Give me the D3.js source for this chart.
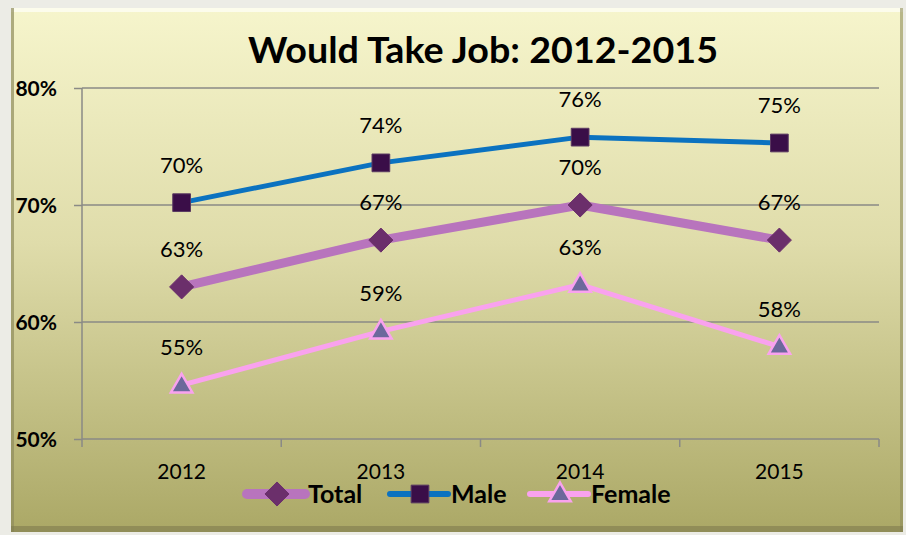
<!DOCTYPE html>
<html><head><meta charset="utf-8">
<script src="https://cdn.jsdelivr.net/npm/d3@7"></script>
<style>html,body{margin:0;padding:0;background:#ecece6;}svg{display:block;}</style>
</head><body>
<script>
const years = ["2012", "2013", "2014", "2015"];
const totalValues = [63.0, 67.0, 70.0, 67.0];
const maleValues = [70.2, 73.6, 75.8, 75.3];
const femaleValues = [54.6, 59.2, 63.2, 57.9];
const totalLabels = ["63%", "67%", "70%", "67%"];
const maleLabels = ["70%", "74%", "76%", "75%"];
const femaleLabels = ["55%", "59%", "63%", "58%"];
const yTicks = [50, 60, 70, 80];
const seriesNames = ["Total", "Male", "Female"];

const W = 906, H = 535;
const svg = d3.select("body").append("svg").attr("width", W).attr("height", H);
const font = "Lato, 'Open Sans', sans-serif";

const defs = svg.append("defs");
const g1 = defs.append("linearGradient").attr("id", "bg").attr("x1", 0).attr("y1", 0).attr("x2", 0).attr("y2", 1);
g1.append("stop").attr("offset", "0%").attr("stop-color", "#f6f5cc");
g1.append("stop").attr("offset", "45%").attr("stop-color", "#dfdcaa");
g1.append("stop").attr("offset", "100%").attr("stop-color", "#aba866");

// panel with bevel
svg.append("rect").attr("x", 11).attr("y", 8).attr("width", 892).attr("height", 524).attr("fill", "url(#bg)");
svg.append("rect").attr("x", 11).attr("y", 8).attr("width", 892).attr("height", 4).attr("fill", "#fdfdf0").attr("opacity", 0.9);
svg.append("rect").attr("x", 11).attr("y", 8).attr("width", 3).attr("height", 524).attr("fill", "#8e8c5c").attr("opacity", 0.7);
svg.append("rect").attr("x", 900).attr("y", 8).attr("width", 3).attr("height", 524).attr("fill", "#8e8c5c").attr("opacity", 0.6);
svg.append("rect").attr("x", 11).attr("y", 526).attr("width", 892).attr("height", 6).attr("fill", "#7e7c4e").attr("opacity", 0.6);

const x = d3.scaleBand().domain(years).range([82, 879]);
const y = d3.scaleLinear().domain([50, 80]).range([439, 88]);
const cx = d => x(d) + x.bandwidth() / 2;

// gridlines
svg.append("g").selectAll("line").data(yTicks.filter(t => t > 50)).join("line")
  .attr("x1", 82).attr("x2", 879).attr("y1", d => y(d)).attr("y2", d => y(d))
  .attr("stroke", "#8a8a86").attr("stroke-width", 1.5);

// y axis
const yAxis = svg.append("g").attr("transform", "translate(82,0)")
  .call(d3.axisLeft(y).tickValues(yTicks).tickSize(8).tickPadding(17).tickFormat(d => d + "%"));
yAxis.select(".domain").attr("stroke", "#8a8a86").attr("stroke-width", 1.5).attr("d", "M0,88V439");
yAxis.selectAll(".tick line").attr("stroke", "#8a8a86").attr("stroke-width", 1.5);
yAxis.selectAll(".tick text").attr("font-family", font).attr("font-weight", "bold")
  .attr("font-size", 21).attr("fill", "#000").attr("dy", "0.35em");

// x axis
const xAxis = svg.append("g").attr("transform", "translate(0,439)")
  .call(d3.axisBottom(x).tickSize(0).tickPadding(25));
xAxis.select(".domain").attr("stroke", "#8a8a86").attr("stroke-width", 1.5).attr("d", "M82,0H879");
xAxis.selectAll(".tick text").attr("font-family", font).attr("font-size", 21).attr("fill", "#000");
const bounds = years.map(d => x(d)).concat([x(years[years.length - 1]) + x.bandwidth()]);
svg.append("g").selectAll("line").data(bounds).join("line")
  .attr("x1", d => d).attr("x2", d => d).attr("y1", 439).attr("y2", 447)
  .attr("stroke", "#8a8a86").attr("stroke-width", 1.5);

// title
svg.append("text").attr("x", 483).attr("y", 63).attr("text-anchor", "middle")
  .attr("font-family", font).attr("font-weight", "bold").attr("font-size", 37)
  .attr("textLength", 470).attr("lengthAdjust", "spacingAndGlyphs")
  .attr("fill", "#000").text("Would Take Job: 2012-2015");

const line = d3.line().x((d, i) => cx(years[i])).y(d => y(d));

const series = [
  {name: "Total", values: totalValues, labels: totalLabels, color: "#b874bd", width: 9, marker: "diamond", mfill: "#6b2f6b", mstroke: "#6b2f6b"},
  {name: "Male", values: maleValues, labels: maleLabels, color: "#0b72c0", width: 5, marker: "square", mfill: "#3a0e48", mstroke: "#5a3a62"},
  {name: "Female", values: femaleValues, labels: femaleLabels, color: "#f9a2ee", width: 5, marker: "triangle", mfill: "#6c689c", mstroke: "#f9a2ee"}
];

const sym = {
  diamond: d3.symbol().type(d3.symbolDiamond2).size(370),
  square: d3.symbol().type(d3.symbolSquare2).size(400),
  triangle: d3.symbol().type(d3.symbolTriangle2).size(330)
};

function drawMarker(g, s, px, py) {
  const p = g.append("path").attr("d", sym[s.marker]()).attr("transform", `translate(${px},${py})`)
    .attr("fill", s.mfill).attr("stroke", s.mstroke).attr("stroke-width", s.marker === "triangle" ? 2.5 : 1);
  if (s.marker === "triangle") p.attr("transform", `translate(${px},${py + 1})`);
}

series.forEach(s => {
  svg.append("path").datum(s.values).attr("d", line).attr("fill", "none")
    .attr("stroke", s.color).attr("stroke-width", s.width).attr("stroke-linejoin", "round");
});
series.forEach(s => {
  const g = svg.append("g");
  s.values.forEach((v, i) => drawMarker(g, s, cx(years[i]), y(v)));
});
series.forEach(s => {
  svg.append("g").selectAll("text").data(s.values).join("text")
    .attr("x", (d, i) => cx(years[i])).attr("y", d => y(d) - 30)
    .attr("text-anchor", "middle").attr("font-family", font).attr("font-size", 22)
    .attr("fill", "#000").text((d, i) => s.labels[i]);
});

// legend
const legendX = [247, 390, 530];
series.forEach((s, i) => {
  const lx = legendX[i], ly = 494;
  svg.append("line").attr("x1", lx).attr("x2", lx + 58).attr("y1", ly).attr("y2", ly)
    .attr("stroke", s.color).attr("stroke-width", s.width + 1).attr("stroke-linecap", "round");
  const g = svg.append("g");
  drawMarker(g, s, lx + 30, ly);
  svg.append("text").attr("x", lx + 61).attr("y", ly + 9).attr("font-family", font)
    .attr("font-weight", "bold").attr("font-size", 25).attr("fill", "#000").text(seriesNames[i]);
});
</script>
</body></html>
